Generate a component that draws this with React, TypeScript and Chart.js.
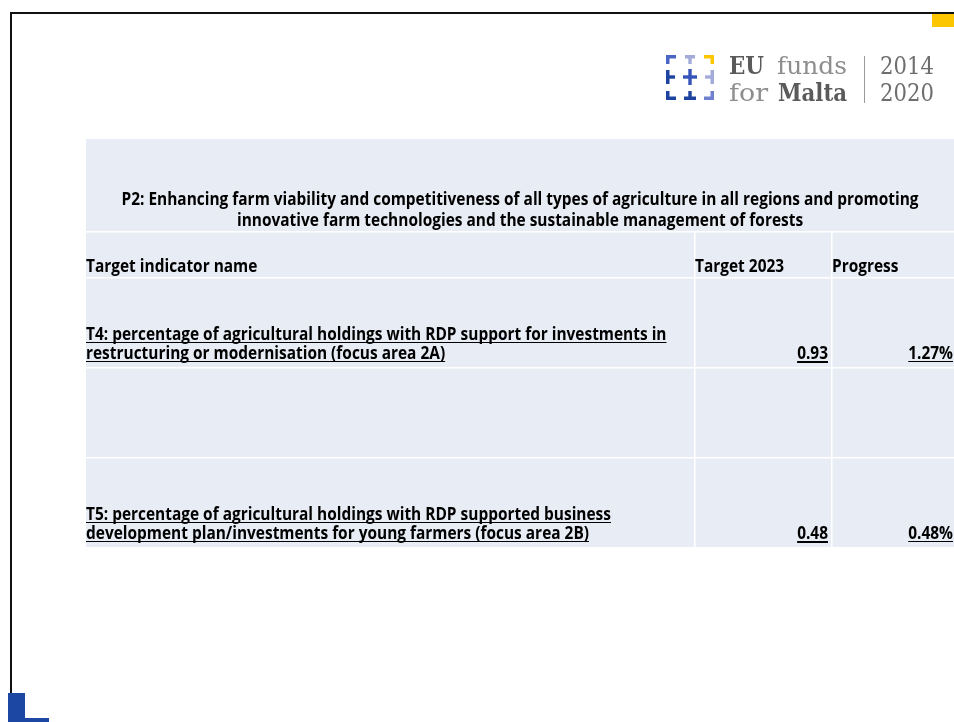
import React, { useEffect, useRef } from "react";
import { Chart, registerables } from "chart.js";

Chart.register(...registerables);

// ---- data ----
const TITLE_LINES = [
  "P2: Enhancing farm viability and competitiveness of all types of agriculture in all regions and promoting",
  "innovative farm technologies and the sustainable management of forests",
];
const HEADERS = ["Target indicator name", "Target 2023", "Progress"];
const INDICATORS = [
  [
    "T4: percentage of agricultural holdings with RDP support for investments in",
    "restructuring or modernisation (focus area 2A)",
  ],
  [],
  [
    "T5: percentage of agricultural holdings with RDP supported business",
    "development plan/investments for young farmers (focus area 2B)",
  ],
];
const TARGETS: (number | null)[] = [0.93, null, 0.48];
const PROGRESS: (number | null)[] = [1.27, null, 0.48];
const LOGO_LINE1 = ["EU", "funds"];
const LOGO_LINE2 = ["for", "Malta"];
const LOGO_YEARS = ["2014", "2020"];

const W = 954;
const H = 722;
const FONT = "'Open Sans', Lato, sans-serif";
const TABLE_BG = "#E8ECF4";

const slidePlugin = {
  id: "slide",
  afterDraw(chart: any) {
    const ctx: CanvasRenderingContext2D = chart.ctx;
    const xs = chart.scales.x;
    const ys = chart.scales.y;
    const px = (v: number) => xs.getPixelForValue(v);
    const py = (v: number) => ys.getPixelForValue(v);
    const rect = (x0: number, y0: number, x1: number, y1: number, c: string) => {
      ctx.fillStyle = c;
      ctx.fillRect(px(x0), py(y0), px(x1) - px(x0), py(y1) - py(y0));
    };

    ctx.save();
    // white page
    rect(0, 0, W, H, "#ffffff");

    // frame
    rect(10, 12, W, 14, "#111111");
    rect(10, 12, 12, 700, "#111111");
    rect(932, 14, W, 27, "#FCC700");
    rect(8, 693, 25, H, "#1C47A3");
    rect(8, 718, 49, H, "#1C47A3");

    // ---- logo icon ----
    const dark = "#1F43A0";
    const mid = "#4A66C4";
    const light = "#A3ABDA";
    const yel = "#FCC700";
    const ix = 666, iy = 55, t = 3.5;
    // top row
    rect(ix, iy, ix + 10, iy + t, mid); rect(ix, iy, ix + t, iy + 9, mid);
    rect(ix + 19, iy, ix + 29, iy + t, light); rect(ix + 22.3, iy, ix + 25.7, iy + 9, light);
    rect(ix + 38, iy, ix + 48, iy + t, yel); rect(ix + 48 - t, iy, ix + 48, iy + 9, yel);
    // middle row
    rect(ix, iy + 15, ix + t, iy + 29, dark); rect(ix, iy + 20.3, ix + 9, iy + 23.7, dark);
    rect(ix + 22.3, iy + 14, ix + 25.7, iy + 30, "#3553B8"); rect(ix + 17, iy + 20.3, ix + 31, iy + 23.7, "#3553B8");
    rect(ix + 48 - t, iy + 15, ix + 48, iy + 29, light); rect(ix + 39, iy + 20.3, ix + 48, iy + 23.7, light);
    // bottom row
    rect(ix, iy + 36, ix + t, iy + 45, dark); rect(ix, iy + 45 - t, ix + 10, iy + 45, dark);
    rect(ix + 18, iy + 45 - t, ix + 30, iy + 45, dark); rect(ix + 22.3, iy + 36, ix + 25.7, iy + 45, dark);
    rect(ix + 48 - t, iy + 36, ix + 48, iy + 45, "#6F80CF"); rect(ix + 38, iy + 45 - t, ix + 48, iy + 45, "#6F80CF");

    // ---- logo text ----
    const serif = "'DejaVu Serif', 'Liberation Serif', serif";
    const logoText = (s: string, x: number, y: number, w: number, bold: boolean, color: string) => {
      ctx.font = `${bold ? "bold " : ""}25px ${serif}`;
      ctx.fillStyle = color;
      ctx.textAlign = "left";
      ctx.textBaseline = "alphabetic";
      const m = ctx.measureText(s).width;
      ctx.save();
      ctx.translate(px(x), py(y));
      ctx.scale(w / m, 1);
      ctx.fillText(s, 0, 0);
      ctx.restore();
    };
    logoText(LOGO_LINE1[0], 729, 74, 35, true, "#5A5A5A");
    logoText(LOGO_LINE1[1], 777, 74, 70, false, "#8E8E8E");
    logoText(LOGO_LINE2[0], 729, 101, 39, false, "#8E8E8E");
    logoText(LOGO_LINE2[1], 778, 101, 69, true, "#5A5A5A");
    logoText(LOGO_YEARS[0], 880, 74, 54, false, "#6E6E6E");
    logoText(LOGO_YEARS[1], 880, 101, 54, false, "#6E6E6E");
    rect(864, 56, 865, 103, "#9A9A9A");

    // ---- table ----
    const tx0 = 86, tx1 = W;
    const rowTops = [139, 232, 278, 368, 458];
    const rowBottoms = [231, 277, 367, 457, 547];
    const colX = [86, 694, 831];
    rect(tx0, rowTops[0], tx1, rowBottoms[4], TABLE_BG);
    // white grid lines
    for (let i = 0; i < 4; i++) rect(tx0, rowBottoms[i], tx1, rowBottoms[i] + 1.5, "#ffffff");
    rect(colX[1], rowTops[1], colX[1] + 1.5, rowBottoms[4], "#ffffff");
    rect(colX[2], rowTops[1], colX[2] + 1.5, rowBottoms[4], "#ffffff");

    const fsize = 17.5;
    ctx.font = `bold ${fsize}px ${FONT}`;
    const sx = 797 / ctx.measureText(TITLE_LINES[0]).width;

    const text = (
      s: string,
      x: number,
      y: number,
      align: CanvasTextAlign,
      underline = 0
    ) => {
      ctx.font = `bold ${fsize}px ${FONT}`;
      ctx.fillStyle = "#000000";
      ctx.textAlign = align;
      ctx.textBaseline = "alphabetic";
      const w = ctx.measureText(s).width * sx;
      ctx.save();
      ctx.translate(px(x), py(y));
      ctx.scale(sx, 1);
      ctx.fillText(s, 0, 0);
      ctx.restore();
      if (underline > 0) {
        let ux0 = x;
        if (align === "right") ux0 = x - w;
        if (align === "center") ux0 = x - w / 2;
        rect(ux0, y + 2, ux0 + w, y + 2 + underline, "#000000");
      }
    };

    // title
    const cx = 520;
    text(TITLE_LINES[0], cx, 205, "center");
    text(TITLE_LINES[1], cx, 226, "center");
    // header
    text(HEADERS[0], 86, 272, "left");
    text(HEADERS[1], 695, 272, "left");
    text(HEADERS[2], 832, 272, "left");
    // data rows
    const dataRows = [2, 3, 4];
    dataRows.forEach((r, i) => {
      const lines = INDICATORS[i];
      const base = rowBottoms[r] - 8;
      lines.forEach((ln, k) => {
        text(ln, 86, base - (lines.length - 1 - k) * 19, "left", 1);
      });
      const tv = TARGETS[i];
      if (tv !== null) text(tv.toFixed(2), 828, base, "right", 2);
      const pv = PROGRESS[i];
      if (pv !== null) text(pv.toFixed(2) + "%", 953, base, "right", 1);
    });

    ctx.restore();
  },
};

export default function App() {
  const ref = useRef<HTMLCanvasElement | null>(null);
  useEffect(() => {
    if (!ref.current) return;
    const chart = new Chart(ref.current, {
      type: "scatter",
      data: { datasets: [] },
      options: {
        animation: false,
        responsive: false,
        devicePixelRatio: 1,
        layout: { padding: 0 },
        plugins: { legend: { display: false }, tooltip: { enabled: false } },
        scales: {
          x: { type: "linear", display: false, min: 0, max: W },
          y: { type: "linear", display: false, min: 0, max: H, reverse: true },
        },
      },
      plugins: [slidePlugin],
    });
    return () => chart.destroy();
  }, []);
  return (
    <div style={{ position: "absolute", left: 0, top: 0, width: W, height: H, background: "#fff" }}>
      <canvas ref={ref} width={W} height={H} style={{ display: "block", width: W, height: H }} />
    </div>
  );
}
